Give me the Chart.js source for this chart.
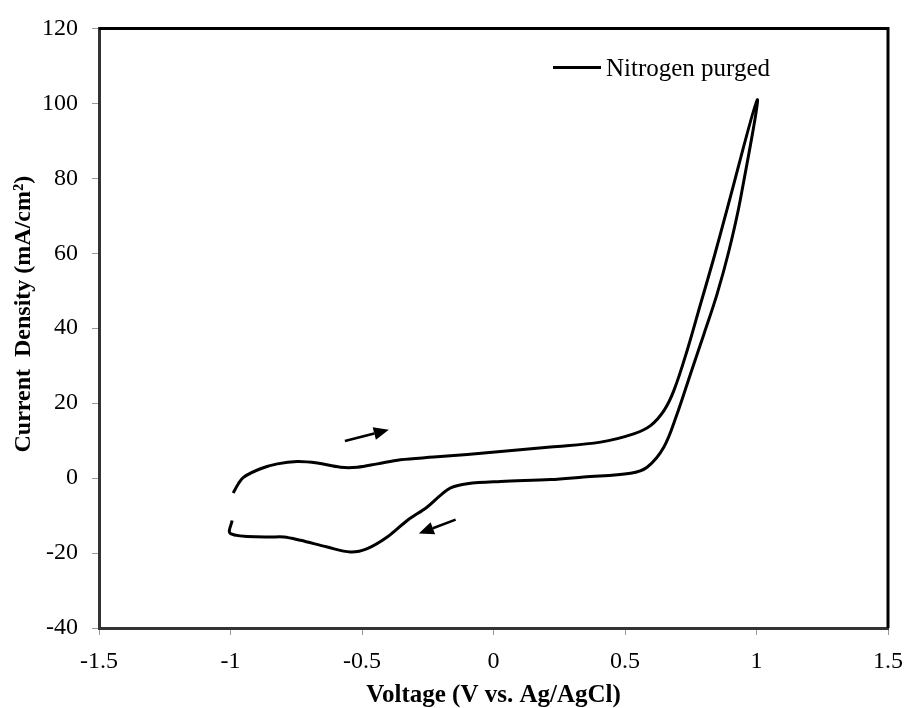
<!DOCTYPE html>
<html>
<head>
<meta charset="utf-8">
<title>Cyclic voltammogram - nitrogen purged</title>
<script src="https://cdn.jsdelivr.net/npm/chart.js@4.4.0/dist/chart.umd.min.js"></script>
<style>
    body { margin: 0; background: #fff; }
    #cvChart { display: block; }
</style>
</head>
<body>
<canvas id="cvChart" width="905" height="708"></canvas>
<script>
// forward scan (upper branch) then reverse scan (lower branch)
var voltage = [-0.99, -0.97, -0.949, -0.886, -0.822, -0.746, -0.67, -0.582, -0.518, -0.442, -0.354, -0.227, -0.1, 0.027, 0.217, 0.407, 0.533, 0.597, 0.648, 0.686, 0.736, 0.787, 0.838, 0.889, 1.003,
    0.939, 0.895, 0.85, 0.8, 0.749, 0.698, 0.648, 0.584, 0.521, 0.343, 0.217, 0.027, -0.1, -0.163, -0.202, -0.252, -0.328, -0.404, -0.48, -0.544, -0.632, -0.734, -0.797, -0.86, -1.0, -0.994];
var current = [-4.0, -1.5, 0.3, 2.5, 3.8, 4.4, 4.0, 2.9, 2.9, 3.8, 4.9, 5.6, 6.3, 7.1, 8.3, 9.6, 11.8, 14.0, 18.0, 23.4, 34.0, 46.4, 58.8, 72.0, 101.0,
    74.5, 60.6, 49.1, 38.4, 27.8, 17.1, 8.3, 2.9, 1.3, 0.3, -0.4, -0.9, -1.5, -2.6, -4.6, -7.7, -11.3, -15.7, -18.8, -19.7, -18.4, -16.6, -15.7, -15.7, -14.8, -11.3];
var seriesName = 'Nitrogen purged';
var yTitle = 'Current  Density (mA/cm\u00B2)';

var xTicks = [-1.5, -1, -0.5, 0, 0.5, 1, 1.5];
var yTicks = [-40, -20, 0, 20, 40, 60, 80, 100, 120];

// scan direction arrows: [tail, tip] in data units
var arrowX = [[-0.565, -0.398], [-0.144, -0.284]];
var arrowY = [[9.9, 12.9], [-11.1, -14.8]];

var points = [];
for (var i = 0; i < voltage.length; i++) {
    points.push({ x: voltage[i], y: current[i] });
}

var serif = "'Liberation Serif', 'Times New Roman', serif";

function drawArrow(ctx, x1, y1, x2, y2) {
    var ang = Math.atan2(y2 - y1, x2 - x1);
    var len = 15, half = 6.5;
    var bx = x2 - len * Math.cos(ang), by = y2 - len * Math.sin(ang);
    ctx.beginPath();
    ctx.moveTo(x1, y1);
    ctx.lineTo(bx, by);
    ctx.stroke();
    ctx.beginPath();
    ctx.moveTo(x2, y2);
    ctx.lineTo(bx + half * Math.sin(ang), by - half * Math.cos(ang));
    ctx.lineTo(bx - half * Math.sin(ang), by + half * Math.cos(ang));
    ctx.closePath();
    ctx.fill();
}

var extras = {
    id: 'extras',
    afterDatasetsDraw: function (chart) {
        var ctx = chart.ctx;
        var area = chart.chartArea;
        var xs = chart.scales.x, ys = chart.scales.y;
        ctx.save();
        // top and right edges of the frame
        ctx.strokeStyle = '#000';
        ctx.lineWidth = 3;
        ctx.beginPath();
        ctx.moveTo(area.left, area.top);
        ctx.lineTo(area.right, area.top);
        ctx.lineTo(area.right, area.bottom);
        ctx.stroke();

        // arrows
        ctx.fillStyle = '#000';
        ctx.lineWidth = 2.5;
        for (var a = 0; a < arrowX.length; a++) {
            drawArrow(ctx,
                xs.getPixelForValue(arrowX[a][0]), ys.getPixelForValue(arrowY[a][0]),
                xs.getPixelForValue(arrowX[a][1]), ys.getPixelForValue(arrowY[a][1]));
        }

        // legend
        var lx = area.left + 454, ly = area.top + 39;
        ctx.lineWidth = 3;
        ctx.beginPath();
        ctx.moveTo(lx, ly);
        ctx.lineTo(lx + 48, ly);
        ctx.stroke();
        ctx.font = '25px ' + serif;
        ctx.textBaseline = 'alphabetic';
        ctx.textAlign = 'left';
        ctx.fillText(chart.data.datasets[0].label, lx + 53, ly + 9);

        // y axis title, sits a little above the axis centre in the original
        ctx.translate(24, (area.top + area.bottom) / 2 - 14);
        ctx.rotate(-Math.PI / 2);
        ctx.font = 'bold 24px ' + serif;
        ctx.textAlign = 'center';
        ctx.textBaseline = 'middle';
        ctx.fillText(yTitle, 0, 0);
        ctx.restore();
    }
};

var cvChart = new Chart(document.getElementById('cvChart'), {
    type: 'scatter',
    data: {
        datasets: [{
            label: seriesName,
            data: points,
            showLine: true,
            borderColor: '#000',
            backgroundColor: '#000',
            borderWidth: 3,
            pointRadius: 0,
            tension: 0.35,
            fill: false
        }]
    },
    options: {
        responsive: false,
        animation: false,
        layout: { padding: { left: 0, top: 27, right: 17, bottom: 0 } },
        plugins: {
            legend: { display: false },
            tooltip: { enabled: false }
        },
        scales: {
            x: {
                type: 'linear',
                min: -1.5,
                max: 1.5,
                afterBuildTicks: function (scale) {
                    scale.ticks = xTicks.map(function (v) { return { value: v }; });
                },
                afterFit: function (scale) {
                    scale.height = 80;
                    scale.paddingLeft = 0;
                    scale.paddingRight = 0;
                },
                grid: { drawOnChartArea: false, drawTicks: true, tickLength: 7, color: '#999' },
                border: { display: true, color: '#333', width: 3 },
                ticks: {
                    color: '#000',
                    padding: 12,
                    maxRotation: 0,
                    font: { family: serif, size: 24 },
                    callback: function (v) { return String(v); }
                },
                title: {
                    display: true,
                    text: 'Voltage (V vs. Ag/AgCl)',
                    color: '#000',
                    padding: { top: 0, bottom: 0 },
                    font: { family: serif, size: 25, weight: 'bold', lineHeight: 1 }
                }
            },
            y: {
                type: 'linear',
                min: -40,
                max: 120,
                afterBuildTicks: function (scale) {
                    scale.ticks = yTicks.map(function (v) { return { value: v }; });
                },
                afterFit: function (scale) { scale.width = 99; },
                grid: { drawOnChartArea: false, drawTicks: true, tickLength: 7, color: '#999' },
                border: { display: true, color: '#333', width: 3 },
                ticks: {
                    color: '#000',
                    padding: 14,
                    font: { family: serif, size: 24 },
                    callback: function (v) { return String(v); }
                },
                title: { display: false }
            }
        }
    },
    plugins: [extras]
});
</script>
</body>
</html>
